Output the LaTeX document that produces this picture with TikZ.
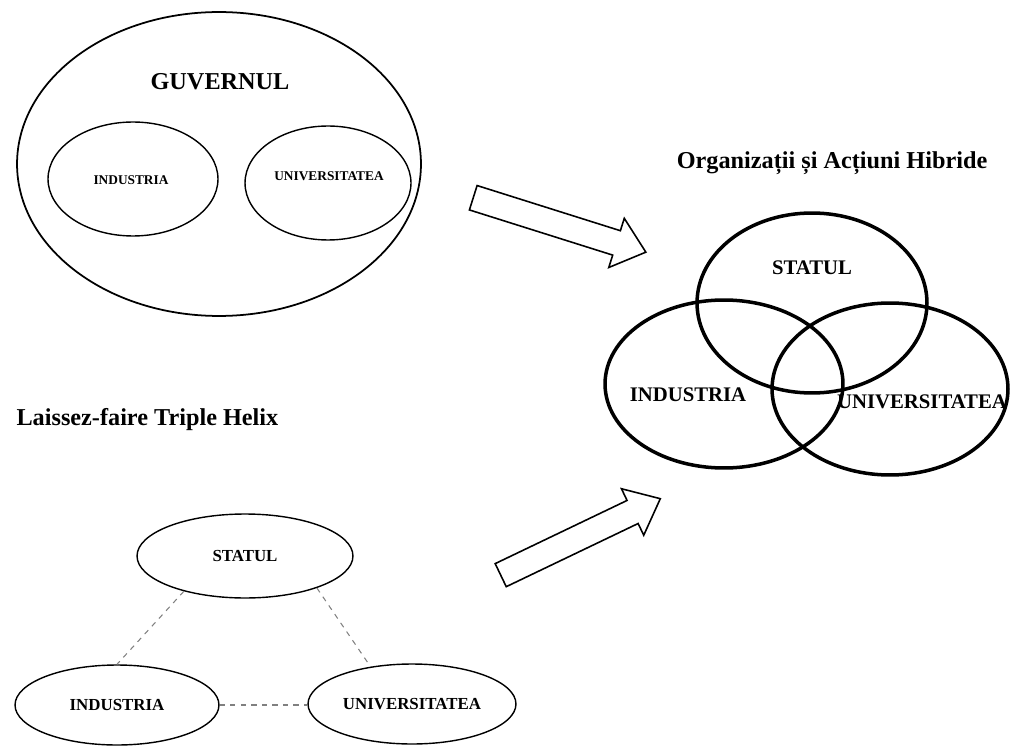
\documentclass[tikz,border=0pt]{standalone}
\usepackage{fontspec}
\setmainfont{Liberation Serif}
\usetikzlibrary{shapes.geometric,shapes.arrows}

\tikzset{every picture/.style={line width=0.8pt}}
\tikzset{
  blob/.style={ellipse, draw, inner sep=0pt},
  venn/.style={ellipse, draw, line width=2pt, inner sep=0pt},
  tiny/.style={font=\bfseries\fontsize{7.6}{9}\selectfont},
  small/.style={font=\bfseries\fontsize{9.6}{11}\selectfont},
  mid/.style={font=\bfseries\fontsize{11.8}{14}\selectfont},
  title/.style={font=\bfseries\fontsize{13.8}{16}\selectfont},
  blockarrow/.style={single arrow, draw, line width=0.9pt, inner sep=0.24cm,
    minimum width=1cm, single arrow head extend=0.26cm,
    single arrow tip angle=80, anchor=tail},
  link/.style={dashed, gray, line width=0.6pt}
}

\begin{document}
\begin{tikzpicture}[x=0.02cm, y=-0.02cm]
    \useasboundingbox (0,0) rectangle (1010,746);

    % government containing the other two
    \node[blob, minimum width=8.08cm, minimum height=6.08cm, line width=1pt] (guv) at (219,164) {};
    \node[title] (guvtext) at (220,82) {GUVERNUL};
    \node[blob, minimum width=3.4cm, minimum height=2.28cm] (ind1) at (133,179) {};
    \node[blob, minimum width=3.32cm, minimum height=2.28cm] (univ1) at (328,183) {};
    \node[tiny] (ind1text) at (131,180) {INDUSTRIA};
    \node[tiny] (univ1text) at (329,176) {UNIVERSITATEA};

    % overlapping spheres
    \node[title] (hybrid) at (832,163) {Organizații și Acțiuni Hibride};
    \node[venn, minimum width=4.6cm, minimum height=3.6cm] (stat2) at (812,303) {};
    \node[venn, minimum width=4.76cm, minimum height=3.36cm] (ind2) at (724,384) {};
    \node[venn, minimum width=4.72cm, minimum height=3.44cm] (univ2) at (890,389) {};
    \node[mid] (stat2text) at (812,268) {STATUL};
    \node[mid] (ind2text) at (688,395) {INDUSTRIA};
    \node[mid] (univ2text) at (922,402) {UNIVERSITATEA};

    % laissez-faire model
    \node[title, anchor=west] (lf) at (10,420) {Laissez-faire Triple Helix};
    \node[blob, small, minimum width=4.32cm, minimum height=1.68cm] (stat3) at (245,556) {STATUL};
    \node[blob, small, minimum width=4.08cm, minimum height=1.6cm] (ind3) at (117,705) {INDUSTRIA};
    \node[blob, small, minimum width=4.16cm, minimum height=1.6cm] (univ3) at (412,704) {UNIVERSITATEA};
    \draw[link] (stat3.210) -- (ind3.90);
    \draw[link] (stat3.336) -- (univ3.138);
    \draw[link] (ind3.east) -- (ind3.east -| univ3.west);

    % transitions
    \node[blockarrow, minimum height=3.62cm, rotate=-17.5] (arrA) at (472.5,197.5) {};
    \node[blockarrow, minimum height=3.54cm, rotate=25.6] (arrB) at (500,575.5) {};
\end{tikzpicture}
\end{document}
